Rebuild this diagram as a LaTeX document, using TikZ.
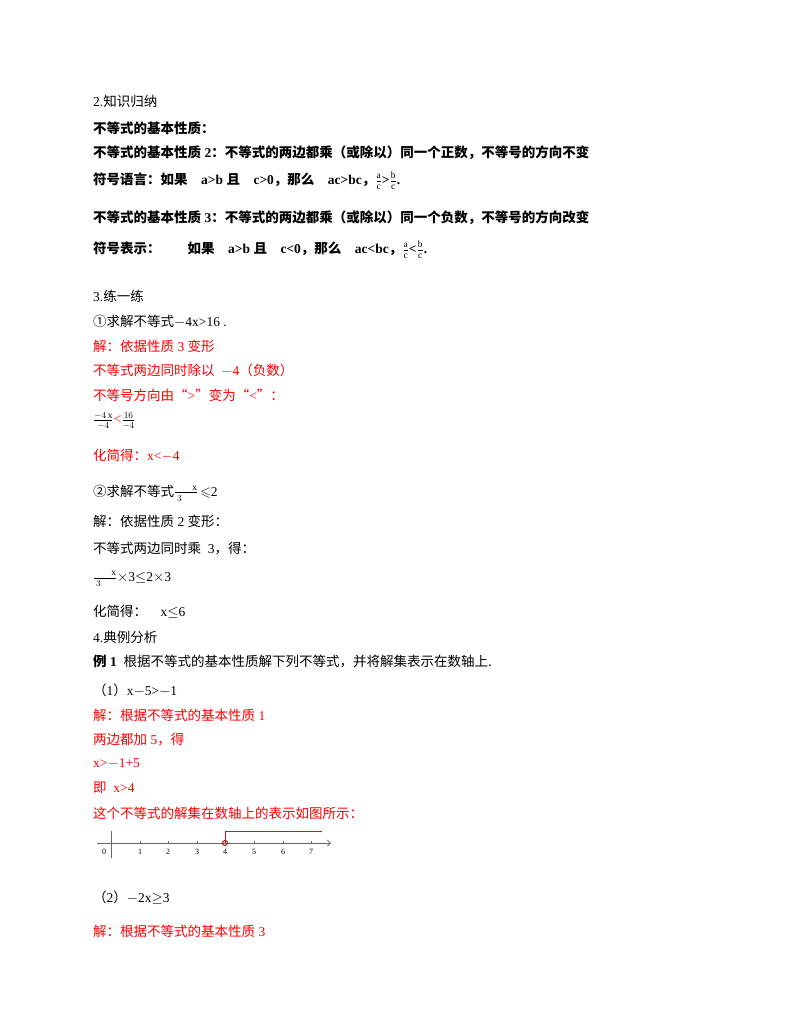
\documentclass[tikz,border=0pt]{standalone}
\usetikzlibrary{arrows.meta}
\usepackage{amssymb}
\usepackage{fontspec}
\setmainfont{Liberation Serif}
\newfontfamily\cjk{Noto Sans CJK SC}
\newcommand{\Z}[1]{{\cjk #1}}
\definecolor{rd}{RGB}{255,0,0}
\begin{document}
\begin{tikzpicture}[x=1pt,y=-1pt,
  t/.style={anchor=west,inner sep=0pt,font=\fontsize{13.5}{15}\selectfont},
  b/.style={t,font=\fontsize{13.5}{15}\selectfont\bfseries},
  r/.style={t,text=rd},
  ax/.style={draw=gray!80!black,line width=0.8pt},
  lab/.style={font=\fontsize{8}{9}\selectfont,inner sep=0pt}]
\useasboundingbox (0,0) rectangle (800,1035);
\node[t] (l1) at (93,101) {2.\Z{知识归纳}};
\node[b] (l2) at (93,128) {\Z{不等式的基本性质：}};
\node[b] (l3) at (93,153) {\Z{不等式的基本性质} 2\Z{：不等式的两边都乘（或除以）同一个正数，不等号的方向不变}};
\node[b] (l4) at (93,181) {\Z{符号语言：如果}\quad a>b \Z{且}\quad c>0\Z{，那么}\quad ac>bc\Z{，}$\frac{\mathrm a}{\mathrm c}$>$\frac{\mathrm b}{\mathrm c}$.};
\node[b] (l5) at (93,218) {\Z{不等式的基本性质} 3\Z{：不等式的两边都乘（或除以）同一个负数，不等号的方向改变}};
\node[b] (l6) at (93,250) {\Z{符号表示：}\qquad\Z{如果}\quad a>b \Z{且}\quad c<0\Z{，那么}\quad ac<bc\Z{，}$\frac{\mathrm a}{\mathrm c}$<$\frac{\mathrm b}{\mathrm c}$.};
\node[t] (l7) at (93,296) {3.\Z{练一练}};
\node[t] (l8) at (93,321) {\Z{①求解不等式}$-$4x>16 .};
\node[r] (l9) at (93,346) {\Z{解：依据性质} 3 \Z{变形}};
\node[r] (l10) at (93,370) {\Z{不等式两边同时除以}\ \ $-$4\Z{（负数）}};
\node[r] (l11) at (93,395) {\Z{不等号方向由“}>\Z{”变为“}<\Z{”：}};
\node[t] (l12) at (93,421) {$\frac{-4\,\mathrm x}{-4}$\textcolor{rd}{<}$\frac{16}{-4}$};
\node[r] (l13) at (93,455) {\Z{化简得：}x<$-$4};
\node[t] (l14) at (93,493) {\Z{②求解不等式}$\frac{\quad\ \mathrm x}{3\quad}$\,$\leqslant$2};
\node[t] (l15) at (93,521) {\Z{解：依据性质} 2 \Z{变形：}};
\node[t] (l16) at (93,549) {\Z{不等式两边同时乘}\ \ 3\Z{，得：}};
\node[t] (l17) at (93,579) {$\frac{\quad\ \mathrm x}{3\quad}$$\times$3$\leq$2$\times$3};
\node[t] (l18) at (93,612) {\Z{化简得：}\quad x$\leq$6};
\node[t] (l19) at (93,637) {4.\Z{典例分析}};
\node[t] (l20) at (93,661) {\textbf{\Z{例} 1}\ \ \Z{根据不等式的基本性质解下列不等式，并将解集表示在数轴上.}};
\node[t] (l21) at (93,690) {\Z{（}1\Z{）}x$-$5>$-$1};
\node[r] (l22) at (93,715) {\Z{解：根据不等式的基本性质} 1};
\node[r] (l23) at (93,740) {\Z{两边都加} 5\Z{，得}};
\node[r] (l24) at (93,764) {x>$-$1+5};
\node[r] (l25) at (93,788) {\Z{即}\ \ x>4};
\node[r] (l26) at (93,813) {\Z{这个不等式的解集在数轴上的表示如图所示：}};
% number line
\coordinate (a0) at (97,843);
\coordinate (a1) at (331,843);
\draw[ax,-{Straight Barb[length=3pt]}] (a0) -- (a1);
\coordinate (z1) at (111,831); \coordinate (z2) at (111,858);
\draw[ax] (z1) -- (z2);
\node[lab] (n0) at (104,852) {0};
\foreach \i/\xx in {1/140,2/168,3/197,4/225,5/254,6/283,7/311}{
  \coordinate (tk\i) at (\xx,843);
  \draw[ax,line width=0.5pt] (tk\i) -- ++(0,-2);
  \node[lab] (n\i) at (\xx,852) {\i};
}
\coordinate (r1) at (225,831); \coordinate (r2) at (322,831);
\draw[rd,line width=0.9pt] (tk4) -- (r1) -- (r2);
\node[circle,draw=rd!70!black,line width=0.9pt,inner sep=0pt,minimum size=5pt] (dot) at (tk4) {};
\node[t] (l27) at (93,898) {\Z{（}2\Z{）}$-$2x$\geq$3};
\node[r] (l28) at (93,931) {\Z{解：根据不等式的基本性质} 3};
\end{tikzpicture}
\end{document}
